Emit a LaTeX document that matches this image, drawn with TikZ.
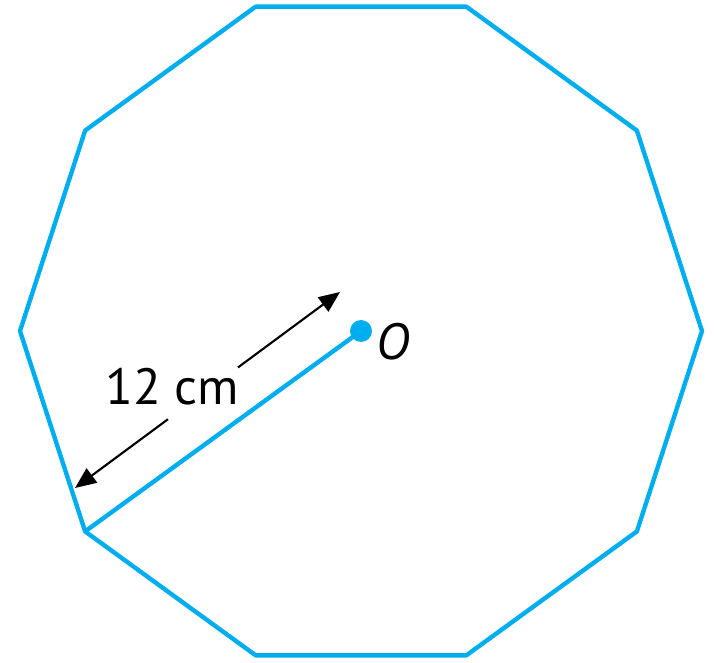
\documentclass[tikz,border=0pt]{standalone}
\usepackage{fontspec}
\setmainfont{PT Sans}
\usetikzlibrary{arrows.meta,calc}
\definecolor{decablue}{RGB}{0,174,239}

\begin{document}
\begin{tikzpicture}[
    x=0.02cm, y=0.02cm,
    edge/.style={decablue, line width=2.5pt, line join=round}, % Blue outline
    dot/.style={fill=decablue, circle, inner sep=0pt, minimum size=0.44cm}, % Centre dot
    measure/.style={line width=1.2pt, -{Triangle[length=12pt,width=10pt]}}, % Black arrows
    labelstyle/.style={font=\fontsize{29}{34}\selectfont, inner sep=0pt} % Large labels
]
    \useasboundingbox (0,0) rectangle (714,663);

    % Centre and the ten corners of the decagon
    \coordinate (O) at (361,332);
    \foreach \k in {0,...,9}
        \coordinate (v\k) at ([shift={(\k*36:341)}]O);

    % Draw Decagon
    \draw[edge] (v0) \foreach \k in {1,...,9}{-- (v\k)} -- cycle;

    % Draw Radius to the lower left corner
    \draw[edge] (O) -- (v6);

    % Measurement arrow (split round the label)
    \coordinate (tipA) at (75,175);
    \coordinate (tipB) at (340,371);
    \coordinate (gapA) at ($(tipA)!0.351!(tipB)$);
    \coordinate (gapB) at ($(tipA)!0.615!(tipB)$);
    \draw[measure] (gapA) -- (tipA);
    \draw[measure] (gapB) -- (tipB);
    \node[labelstyle] (len) at (172,276) {12 cm};

    % Centre point and label (draw last to be on top)
    \node[dot] (Odot) at (O) {};
    \node[labelstyle, anchor=west] (Olabel) at ([xshift=2pt, yshift=-6pt]Odot.east) {\textit{O}};

\end{tikzpicture}
\end{document}
